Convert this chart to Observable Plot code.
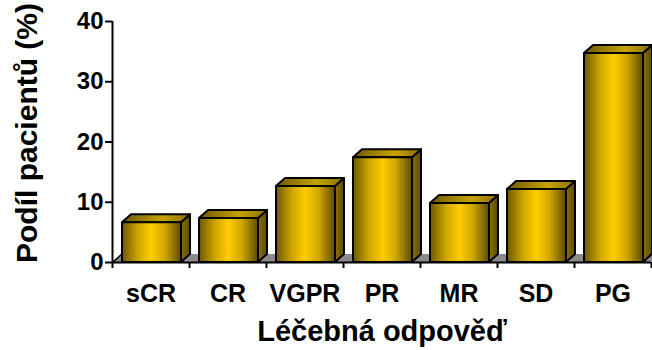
<!DOCTYPE html>
<html>
<head>
<meta charset="utf-8">
<script src="https://cdn.jsdelivr.net/npm/d3@7"></script>
<script src="https://cdn.jsdelivr.net/npm/@observablehq/plot@0.6"></script>
<style>
  html, body { margin: 0; padding: 0; background: #fff; }
  #chart svg { display: block; }
</style>
</head>
<body>
<div id="chart"></div>
<script>
// Response categories and share of patients (%)
const categories = ["sCR", "CR", "VGPR", "PR", "MR", "SD", "PG"];
const shares = [6.6, 7.3, 12.6, 17.4, 9.8, 12.1, 34.7];
const yTicks = [0, 10, 20, 30, 40];
const xTitle = "Léčebná odpověď";
const yTitle = "Podíl pacientů (%)";

// Geometry of the pseudo-3D boxes, in data units of the linear scales
const FRONT_L = 0.13, FRONT_R = 0.896;   // front face within each category slot
const DEPTH_X = 0.117, DEPTH_Y = 1.33;   // receding offset of top/side faces

const rows = categories.map((c, i) => ({c, i, v: shares[i]}));

const topFaces = rows.flatMap(d => [
  {c: d.c, y: d.v, x1: d.i + FRONT_L, x2: d.i + FRONT_R},
  {c: d.c, y: d.v + DEPTH_Y, x1: d.i + FRONT_L + DEPTH_X, x2: d.i + FRONT_R + DEPTH_X}
]);
const sideFaces = rows.flatMap(d => [
  {c: d.c, x: d.i + FRONT_R, y1: 0, y2: d.v},
  {c: d.c, x: d.i + FRONT_R + DEPTH_X, y1: DEPTH_Y, y2: d.v + DEPTH_Y}
]);
const n = categories.length;
const floor = [
  {y: 0, x1: 0, x2: n},
  {y: DEPTH_Y, x1: DEPTH_X, x2: n + DEPTH_X}
];

const font = "'Liberation Sans', Arial, sans-serif";
const edge = {stroke: "black", strokeWidth: 2, strokeLinejoin: "round"};

const chart = Plot.plot({
  width: 652,
  height: 350,
  marginTop: 21,
  marginBottom: 88,
  marginLeft: 112,
  marginRight: 1,
  style: {fontFamily: font, fontWeight: "bold", background: "white", color: "black"},
  x: {type: "linear", domain: [0, n], axis: null},
  y: {type: "linear", domain: [0, 40], axis: null},
  marks: [
    // floor
    Plot.areaX(floor, {y: "y", x1: "x1", x2: "x2", fill: "#8a8a8a"}),
    Plot.line([{x: 0, y: 0}, {x: DEPTH_X, y: DEPTH_Y}], {x: "x", y: "y", stroke: "black", strokeWidth: 1.5}),
    // boxes
    Plot.areaY(sideFaces, {x: "x", y1: "y1", y2: "y2", z: "c", fill: "url(#sideGrad)", ...edge}),
    Plot.areaX(topFaces, {y: "y", x1: "x1", x2: "x2", z: "c", fill: "url(#topGrad)", ...edge}),
    Plot.rect(rows, {x1: d => d.i + FRONT_L, x2: d => d.i + FRONT_R, y1: 0, y2: "v", fill: "url(#frontGrad)", ...edge}),
    // axes lines
    Plot.ruleX([0], {y1: 0, y2: 40, stroke: "black", strokeWidth: 2}),
    Plot.ruleY([0], {x1: 0, x2: n, stroke: "black", strokeWidth: 2}),
    // y ticks and labels
    Plot.ruleY(yTicks, {x1: -0.09, x2: 0, stroke: "black", strokeWidth: 2}),
    Plot.text(yTicks, {x: 0, y: d => d, text: d => String(d), dx: -9, textAnchor: "end", fontSize: 24, fontWeight: "bold", fill: "black"}),
    // x ticks and labels
    Plot.ruleX(d3.range(n + 1), {y1: 0, y2: -1, stroke: "black", strokeWidth: 2}),
    Plot.text(rows, {x: d => d.i + 0.5, y: 0, text: "c", dy: 31, fontSize: 25, fontWeight: "bold", fill: "black"}),
    // axis titles
    Plot.text([xTitle], {frameAnchor: "bottom", textAnchor: "middle", dy: 78, fontSize: 29, fontWeight: "bold", fill: "black"}),
    Plot.text([yTitle], {frameAnchor: "left", textAnchor: "middle", dx: -85, dy: -9, rotate: -90, fontSize: 30, fontWeight: "bold", fill: "black"})
  ]
});

// Gradient fills for the box faces
const defs = `
<defs>
  <linearGradient id="frontGrad" x1="0" x2="1" y1="0" y2="0">
    <stop offset="0" stop-color="#6e5800"/>
    <stop offset="0.28" stop-color="#d0a800"/>
    <stop offset="0.5" stop-color="#ffcc00"/>
    <stop offset="0.72" stop-color="#d0a800"/>
    <stop offset="1" stop-color="#5e4b00"/>
  </linearGradient>
  <linearGradient id="sideGrad" x1="0" x2="1" y1="0" y2="0">
    <stop offset="0" stop-color="#8c7100"/>
    <stop offset="1" stop-color="#5c4a00"/>
  </linearGradient>
  <linearGradient id="topGrad" x1="0" x2="1" y1="0" y2="0">
    <stop offset="0" stop-color="#6e5900"/>
    <stop offset="0.6" stop-color="#c7a200"/>
    <stop offset="1" stop-color="#8a7000"/>
  </linearGradient>
</defs>`;
chart.insertAdjacentHTML("afterbegin", defs);

document.getElementById("chart").appendChild(chart);
</script>
</body>
</html>
